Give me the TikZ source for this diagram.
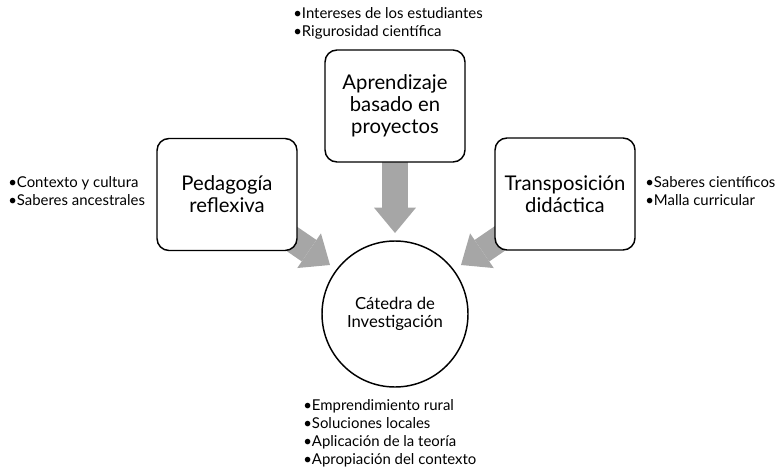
\documentclass[tikz,border=0pt]{standalone}
\usepackage{fontspec}
\setmainfont{Lato}
\usetikzlibrary{arrows.meta}
\pgfdeclarelayer{bg}
\pgfsetlayers{bg,main}
\definecolor{arrowgray}{RGB}{166,166,166}
\begin{document}
\begin{tikzpicture}[x=0.75pt,y=-0.75pt,
  box/.style={draw=black, line width=1.1pt, rounded corners=9pt, fill=white,
    minimum width=105pt, minimum height=84pt, align=center,
    font=\fontsize{15.2}{16.5}\selectfont, inner sep=0pt},
  circ/.style={draw=black, line width=1.1pt, circle, minimum size=109.5pt,
    fill=white, align=center, font=\fontsize{12.5}{14}\selectfont, inner sep=0pt},
  list/.style={align=left, anchor=west, inner sep=0pt,
    font=\fontsize{11.2}{13.5}\selectfont},
  bigarrow/.style={draw=arrowgray, line width=19.5pt,
    -{Triangle[length=19pt,width=31.5pt,line width=0pt]}}]
\useasboundingbox (0,0) rectangle (778,467);
\node[box] (ped) at (227,194.5) {Pedagogía\\reflexiva};
\node[box] (apr) at (395,106) {Aprendizaje\\basado en\\proyectos};
\node[box] (tra) at (565,194) {Transposición\\didáctica};
\node[circ] (cat) at (395,314) {Cátedra de\\Investigación};
\node[list] (lt) at (293,23) {•Intereses de los estudiantes\\•Rigurosidad científica};
\node[list] (ll) at (8,191) {•Contexto y cultura\\•Saberes ancestrales};
\node[list] (lr) at (645,191) {•Saberes científicos\\•Malla curricular};
\node[list] (lb) at (303,433) {•Emprendimiento rural\\•Soluciones locales\\•Aplicación de la teoría\\•Apropiación del contexto};
\coordinate (tipT) at (395,233);
\coordinate (tipL) at (330,265);
\coordinate (tipR) at (461,265);
\begin{pgfonlayer}{bg}
\draw[bigarrow] (ped.center) -- (tipL);
\draw[bigarrow] (apr.center) -- (tipT);
\draw[bigarrow] (tra.center) -- (tipR);
\end{pgfonlayer}
\end{tikzpicture}
\end{document}
